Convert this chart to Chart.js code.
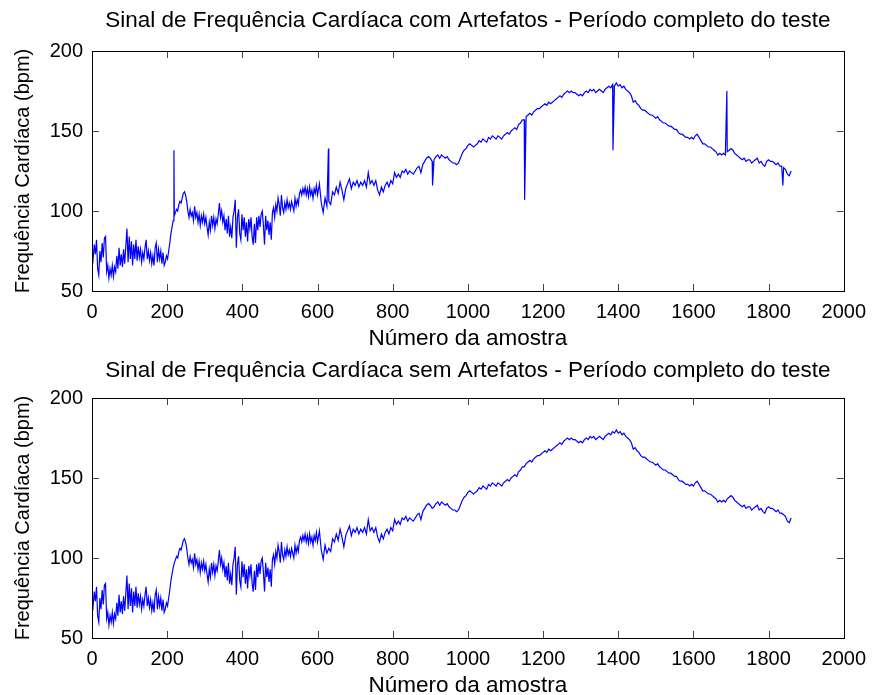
<!DOCTYPE html>
<html>
<head>
<meta charset="utf-8">
<script src="https://cdn.jsdelivr.net/npm/chart.js@4.4.1/dist/chart.umd.min.js"></script>
<style>
    html, body { margin: 0; padding: 0; background: #fff; overflow: hidden; }
    #figura { position: relative; width: 875px; height: 695px; overflow: hidden; }
    #figura canvas { position: absolute; left: 0; }
</style>
</head>
<body>
<div id="figura">
    <canvas id="graficoComArtefatos" width="875" height="352" style="top:0"></canvas>
    <canvas id="graficoSemArtefatos" width="875" height="352" style="top:347px"></canvas>
</div>
<script>
// frequencia cardiaca (bpm): trecho inicial mais ruidoso lido a cada 3 amostras (0..600),
// o resto a cada 5 amostras (605..1860)
const passoInicio = 3;
const bpmInicio = [
    75, 70, 79, 73, 82, 64, 60, 75, 68, 80, 71, 83, 84, 62, 66, 58, 64, 60, 66, 59,
    65, 62, 72, 64, 77, 66, 73, 65, 76, 67, 78, 89, 68, 84, 70, 81, 66, 79, 70, 82,
    69, 78, 71, 76, 68, 74, 70, 77, 82, 70, 75, 69, 74, 67, 72, 66, 77, 80, 68, 76,
    70, 75, 67, 74, 66, 68, 72, 70, 75, 80, 86, 90, 94, 97, 99, 101, 100, 104, 106, 105,
    108, 111, 112, 110, 106, 100, 96, 101, 97, 99, 94, 103, 96, 99, 93, 98, 91, 97, 93, 98,
    92, 96, 90, 85, 93, 88, 97, 91, 96, 89, 95, 92, 98, 105, 96, 100, 93, 97, 88, 95,
    86, 97, 84, 90, 83, 96, 100, 107, 77, 96, 101, 86, 82, 98, 88, 96, 84, 93, 81, 95,
    89, 96, 84, 79, 92, 80, 96, 88, 97, 90, 98, 100, 91, 79, 97, 88, 94, 85, 93, 82,
    99, 102, 96, 104, 100, 108, 104, 97, 110, 102, 99, 105, 101, 107, 102, 105, 101, 106, 103, 100,
    108, 103, 107, 104, 111, 113, 110, 114, 111, 115, 110, 114, 109, 115, 110, 113, 108, 114, 111, 116,
    110
];

const inicioFinal = 605;
const passoFinal = 5;
const bpmFinal = [
    117, 105, 99, 108, 103, 106, 104, 112, 110, 115, 111, 118, 113, 107, 114, 117, 120, 114, 118,
    116, 119, 115, 118, 116, 119, 115, 124, 117, 119, 116, 119, 113, 110, 115, 112, 116, 118, 115, 119,
    117, 124, 121, 123, 121, 125, 124, 126, 123, 125, 124, 123, 125, 127, 128, 124, 129, 131, 133, 134,
    133, 131, 132, 134, 135, 133, 135, 134, 133, 134, 132, 131, 130, 130, 129, 130, 133, 136, 138, 139,
    141, 142, 141, 140, 141, 142, 144, 143, 145, 144, 143, 146, 145, 147, 146, 145, 147, 146, 145, 147,
    148, 149, 148, 150, 151, 152, 151, 154, 155, 157, 157, 159, 160, 161, 160, 162, 163, 164, 164, 165,
    166, 167, 166, 168, 167, 168, 169, 170, 171, 172, 171, 173, 174, 175, 174, 175, 174, 174, 173, 172,
    173, 172, 174, 175, 174, 176, 175, 176, 174, 175, 176, 175, 174, 176, 177, 178, 177, 179, 178, 180,
    178, 179, 177, 178, 176, 175, 174, 172, 168, 169, 167, 166, 164, 163, 163, 162, 161, 160, 160, 159,
    158, 159, 157, 156, 155, 155, 154, 153, 153, 152, 151, 151, 149, 148, 148, 147, 146, 146, 145, 146,
    145, 147, 148, 146, 144, 142, 142, 141, 140, 140, 139, 138, 137, 135, 136, 135, 136, 135, 137, 138,
    139, 138, 136, 135, 134, 133, 132, 133, 131, 132, 132, 130, 131, 132, 133, 130, 131, 129, 128, 131,
    132, 131, 131, 130, 129, 130, 128, 128, 127, 126, 123, 122, 125
];

// artefatos (picos isolados) presentes so no sinal bruto
const artefatoAmostras = [218, 629, 906, 1151, 1386, 1689, 1838];
const artefatoValores = [138, 139, 116, 107, 138, 175, 116];

const ticksX = [0, 200, 400, 600, 800, 1000, 1200, 1400, 1600, 1800, 2000];
const ticksY = [50, 100, 150, 200];

const tituloCom = 'Sinal de Frequência Cardíaca com Artefatos - Período completo do teste';
const tituloSem = 'Sinal de Frequência Cardíaca sem Artefatos - Período completo do teste';
const rotuloX = 'Número da amostra';
const rotuloY = 'Frequência Cardíaca (bpm)';

const fonte = '"Liberation Sans", Arial, Helvetica, sans-serif';

const sinalLimpo = bpmInicio.map((v, i) => ({ x: i * passoInicio, y: v }))
    .concat(bpmFinal.map((v, i) => ({ x: inicioFinal + i * passoFinal, y: v })));
const sinalBruto = sinalLimpo
    .concat(artefatoAmostras.map((a, i) => ({ x: a, y: artefatoValores[i] })))
    .sort((p, q) => p.x - q.x);

// caixa em volta da area do grafico com marcas de escala para dentro
const moldura = {
    id: 'moldura',
    afterDraw(chart) {
        const { ctx, chartArea: a, scales: { x, y } } = chart;
        const tam = 7;
        ctx.save();
        ctx.lineWidth = 1;
        ctx.strokeStyle = '#444';
        ctx.beginPath();
        x.ticks.forEach(t => {
            const px = Math.round(x.getPixelForValue(t.value)) + 0.5;
            ctx.moveTo(px, a.bottom);
            ctx.lineTo(px, a.bottom - tam);
            ctx.moveTo(px, a.top);
            ctx.lineTo(px, a.top + tam);
        });
        y.ticks.forEach(t => {
            const py = Math.round(y.getPixelForValue(t.value)) + 0.5;
            ctx.moveTo(a.left, py);
            ctx.lineTo(a.left + tam, py);
            ctx.moveTo(a.right, py);
            ctx.lineTo(a.right - tam, py);
        });
        ctx.stroke();
        ctx.strokeStyle = '#000';
        ctx.strokeRect(Math.round(a.left) + 0.5, Math.round(a.top) + 0.5,
            Math.round(a.right - a.left), Math.round(a.bottom - a.top));
        ctx.restore();
    }
};

function criarGrafico(id, titulo, pontos, padTitulo) {
    return new Chart(document.getElementById(id), {
        type: 'line',
        data: {
            datasets: [{
                data: pontos,
                borderColor: '#0000ff',
                borderWidth: 1.2,
                pointRadius: 0,
                tension: 0,
                fill: false
            }]
        },
        options: {
            responsive: false,
            animation: false,
            events: [],
            layout: { padding: { left: 0, right: 28, top: 0, bottom: 0 } },
            plugins: {
                legend: { display: false },
                tooltip: { enabled: false },
                title: {
                    display: true,
                    text: titulo,
                    fullSize: false,
                    color: '#000',
                    font: { family: fonte, size: 22.5, weight: 'normal' },
                    padding: padTitulo
                }
            },
            scales: {
                x: {
                    type: 'linear',
                    min: 0,
                    max: 2000,
                    afterBuildTicks: s => { s.ticks = ticksX.map(v => ({ value: v })); },
                    afterFit: s => { s.height = 61; },
                    grid: { display: false, drawTicks: false },
                    border: { display: false },
                    ticks: {
                        autoSkip: false,
                        maxRotation: 0,
                        padding: 9,
                        color: '#000',
                        font: { family: fonte, size: 20 },
                        callback: v => String(v)
                    },
                    title: {
                        display: true,
                        text: rotuloX,
                        color: '#000',
                        font: { family: fonte, size: 22.5 },
                        padding: { top: 0, bottom: 0 }
                    }
                },
                y: {
                    min: 50,
                    max: 200,
                    afterBuildTicks: s => { s.ticks = ticksY.map(v => ({ value: v })); },
                    afterFit: s => { s.width = 92; },
                    grid: { display: false, drawTicks: false },
                    border: { display: false },
                    ticks: {
                        padding: 9,
                        color: '#000',
                        font: { family: fonte, size: 20 },
                        callback: v => String(v)
                    },
                    title: {
                        display: true,
                        text: rotuloY,
                        color: '#000',
                        font: { family: fonte, size: 20 },
                        padding: { top: 11, bottom: 0 }
                    }
                }
            }
        },
        plugins: [moldura]
    });
}

criarGrafico('graficoComArtefatos', tituloCom, sinalBruto, { top: 7, bottom: 17 });
criarGrafico('graficoSemArtefatos', tituloSem, sinalLimpo, { top: 10, bottom: 14 });
</script>
</body>
</html>
